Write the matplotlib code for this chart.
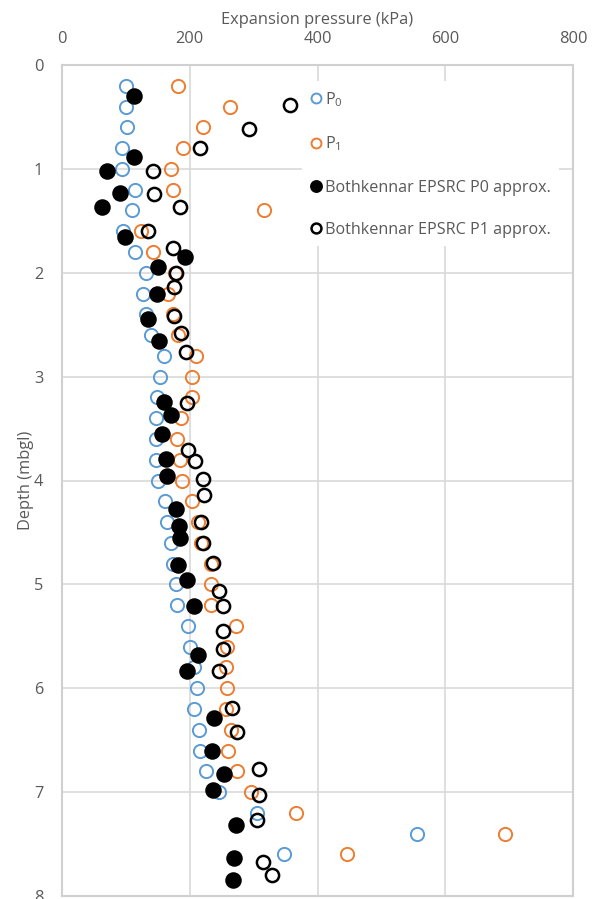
import numpy as np
import matplotlib
matplotlib.use("Agg")
from matplotlib import pyplot as plt

plt.rcParams['font.family'] = ['Open Sans', 'DejaVu Sans']

# pressuremeter results, every 0.2 m
depth = [0.2, 0.4, 0.6, 0.8, 1.0, 1.2, 1.4, 1.6, 1.8, 2.0,
         2.2, 2.4, 2.6, 2.8, 3.0, 3.2, 3.4, 3.6, 3.8, 4.0,
         4.2, 4.4, 4.6, 4.8, 5.0, 5.2, 5.4, 5.6, 5.8, 6.0,
         6.2, 6.4, 6.6, 6.8, 7.0, 7.2, 7.4, 7.6]
p0 = [100, 100, 101, 94, 94, 115, 109, 96, 115, 131,
      127, 131, 140, 160, 153, 148, 147, 147, 147, 150,
      161, 164, 171, 173, 178, 180, 198, 200, 206, 212,
      207, 215, 216, 226, 246, 305, 555, 348]
p1 = [181, 263, 220, 190, 170, 173, 317, 123, 143, 177,
      166, 173, 182, 210, 204, 203, 186, 180, 184, 188,
      203, 213, 218, 234, 233, 234, 272, 258, 256, 258,
      256, 265, 260, 274, 296, 366, 693, 446]

# Bothkennar EPSRC site, approximate
bk_p0_depth = [0.30, 0.89, 1.02, 1.23, 1.37, 1.66, 1.85, 1.94, 2.20, 2.45,
               2.66, 3.24, 3.37, 3.55, 3.79, 3.96, 4.27, 4.44, 4.55, 4.81,
               4.96, 5.21, 5.68, 5.83, 6.29, 6.60, 6.83, 6.98, 7.32, 7.63,
               7.85]
bk_p0 = [112, 113, 71, 91, 63, 98, 193, 150, 148, 135,
         152, 159, 170, 156, 163, 165, 178, 183, 185, 182,
         195, 207, 213, 195, 238, 235, 254, 237, 272, 270,
         267]
bk_p1_depth = [0.385, 0.62, 0.80, 1.02, 1.245, 1.37, 1.60, 1.76, 2.00, 2.14,
               2.42, 2.58, 2.76, 3.25, 3.705, 3.81, 3.99, 4.14, 4.40, 4.60,
               4.79, 5.06, 5.21, 5.45, 5.62, 5.83, 6.19, 6.42, 6.78, 7.03,
               7.27, 7.67, 7.80]
bk_p1 = [357, 293, 216, 142, 144, 185, 134, 174, 179, 176,
         175, 187, 194, 196, 198, 209, 220, 222, 217, 221,
         237, 246, 252, 252, 252, 246, 266, 274, 309, 309,
         305, 315, 329]

xticks = [0, 200, 400, 600, 800]
yticks = [0, 1, 2, 3, 4, 5, 6, 7, 8]

grey = '#595959'
grid_c = '#d9d9d9'

fig = plt.figure(figsize=(5.97, 8.99), dpi=100)
ax = fig.add_axes([62 / 597, 3 / 899, 511 / 597, 831 / 899])

ax.plot(p0, depth, 'o', ls='none', ms=9.5, mfc='none', mec='#5B9BD5', mew=1.4,
        label=r'P$_\mathregular{0}$')
ax.plot(p1, depth, 'o', ls='none', ms=9.5, mfc='none', mec='#ED7D31', mew=1.4,
        label=r'P$_\mathregular{1}$')
ax.plot(bk_p0, bk_p0_depth, 'o', ls='none', ms=10.5, mfc='black', mec='black', mew=1.4,
        label='Bothkennar EPSRC P0 approx.')
ax.plot(bk_p1, bk_p1_depth, 'o', ls='none', ms=9.5, mfc='none', mec='black', mew=1.8,
        label='Bothkennar EPSRC P1 approx.')

ax.set_xlim(0, 800)
ax.set_ylim(8, 0)
ax.set_xticks(xticks)
ax.set_yticks(yticks)
ax.xaxis.tick_top()
ax.xaxis.set_label_position('top')
ax.tick_params(length=0, labelsize=11.8, labelcolor=grey)
ax.tick_params(axis='x', pad=13)
ax.tick_params(axis='y', pad=13.5)
ax.set_xlabel('Expansion pressure (kPa)', fontsize=11.8, color=grey, labelpad=5)
ax.set_ylabel('Depth (mbgl)', fontsize=11.8, color=grey, labelpad=0)

ax.grid(True, color=grid_c, lw=1.2)
ax.set_axisbelow(True)
for s in ax.spines.values():
    s.set_color('#d0d0d0')
    s.set_linewidth(1.5)

leg = ax.legend(loc='upper left', bbox_to_anchor=(232 / 511, 1 - 8 / 831),
                frameon=True, fancybox=False, edgecolor='none', facecolor='white',
                framealpha=1, fontsize=11.6, handlelength=0.6, handletextpad=0.25,
                labelspacing=1.62, borderpad=0.55, markerscale=0.75)
for t in leg.get_texts():
    t.set_color(grey)

fig.savefig('out.png', dpi=100)
